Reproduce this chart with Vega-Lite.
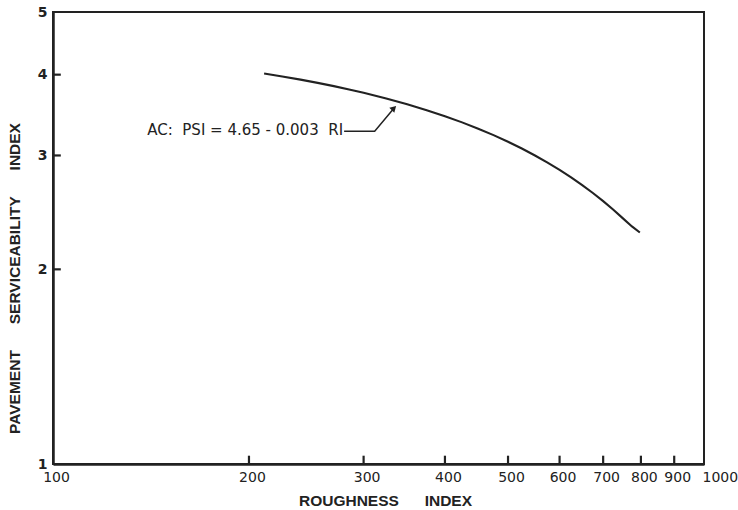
{
  "$schema": "https://vega.github.io/schema/vega-lite/v6.json",
  "width": 651,
  "height": 452,
  "autosize": {"type": "none"},
  "padding": {"left": 53, "top": 12, "right": 34, "bottom": 46},
  "background": "white",
  "config": {
    "view": {"stroke": "#222", "strokeWidth": 2},
    "font": "Liberation Sans",
    "axis": {"grid": false, "zindex": 1, "ticks": false, "domainColor": "#222", "domainWidth": 2.5, "labelColor": "#222", "titleColor": "#222"}
  },
  "datasets": {
    "curve": [
      {"RI": 211, "PSI": 4.017}, {"RI": 225, "PSI": 3.975}, {"RI": 240, "PSI": 3.93},
      {"RI": 255, "PSI": 3.885}, {"RI": 270, "PSI": 3.84}, {"RI": 285, "PSI": 3.795},
      {"RI": 300, "PSI": 3.75}, {"RI": 325, "PSI": 3.675}, {"RI": 350, "PSI": 3.6},
      {"RI": 375, "PSI": 3.525}, {"RI": 400, "PSI": 3.45}, {"RI": 425, "PSI": 3.375},
      {"RI": 450, "PSI": 3.3}, {"RI": 475, "PSI": 3.225}, {"RI": 500, "PSI": 3.15},
      {"RI": 525, "PSI": 3.075}, {"RI": 550, "PSI": 3.0}, {"RI": 575, "PSI": 2.925},
      {"RI": 600, "PSI": 2.85}, {"RI": 625, "PSI": 2.775}, {"RI": 650, "PSI": 2.7},
      {"RI": 675, "PSI": 2.625}, {"RI": 700, "PSI": 2.55}, {"RI": 725, "PSI": 2.475},
      {"RI": 750, "PSI": 2.4}, {"RI": 775, "PSI": 2.33}, {"RI": 797, "PSI": 2.28}
    ],
    "leader": [
      {"RI": 280, "PSI": 3.27, "o": 1},
      {"RI": 312, "PSI": 3.27, "o": 2},
      {"RI": 334, "PSI": 3.55, "o": 3}
    ],
    "tip": [{"RI": 334, "PSI": 3.55}],
    "label": [{"RI": 279, "PSI": 3.29, "text": "AC:\u00a0\u00a0PSI = 4.65 - 0.003\u00a0\u00a0RI"}],
    "xticks": [{"RI": 200}, {"RI": 300}, {"RI": 400}, {"RI": 500}, {"RI": 600}, {"RI": 700}, {"RI": 800}, {"RI": 900}],
    "yticks": [{"PSI": 2}, {"PSI": 3}, {"PSI": 4}]
  },
  "layer": [
    {
      "data": {"name": "curve"},
      "mark": {"type": "line", "color": "#222", "strokeWidth": 2.1},
      "encoding": {
        "x": {"field": "RI", "type": "quantitative",
          "scale": {"type": "log", "domain": [100, 1000], "nice": false},
          "axis": {"values": [100, 200, 300, 400, 500, 600, 700, 800, 900, 1000], "format": "d",
            "title": "ROUGHNESS\u00a0\u00a0\u00a0\u00a0\u00a0\u00a0INDEX", "titleFont": "Liberation Sans", "titleFontSize": 15.5, "titleFontWeight": "bold",
            "titlePadding": 9, "titleX": 332,
            "labelFont": "DejaVu Sans", "labelFontSize": 14, "labelPadding": 6,
            "labelFlush": false, "labelOverlap": false, "labelBound": false,
            "labelAlign": {"expr": "datum.value == 1000 ? 'left' : 'center'"},
            "labelOffset": {"expr": "datum.value == 1000 ? -2 : 3"}}},
        "y": {"field": "PSI", "type": "quantitative",
          "scale": {"type": "log", "domain": [1, 5], "nice": false},
          "axis": {"values": [1, 2, 3, 4, 5], "format": "d",
            "title": "PAVEMENT\u00a0\u00a0\u00a0\u00a0\u00a0\u00a0SERVICEABILITY\u00a0\u00a0\u00a0\u00a0\u00a0\u00a0INDEX", "titleFont": "Liberation Sans", "titleFontSize": 15.5, "titleFontWeight": "bold",
            "titleY": 266, "titleX": -31,
            "labelFont": "DejaVu Sans", "labelFontSize": 14, "labelFontWeight": "bold", "labelPadding": 6,
            "labelFlush": false, "labelOverlap": false}}
      }
    },
    {
      "data": {"name": "xticks"},
      "mark": {"type": "rule", "color": "#222", "strokeWidth": 2.2},
      "encoding": {
        "x": {"field": "RI", "type": "quantitative"},
        "y": {"datum": 1, "type": "quantitative"},
        "y2": {"datum": 1.03}
      }
    },
    {
      "data": {"name": "yticks"},
      "mark": {"type": "rule", "color": "#222", "strokeWidth": 2.2},
      "encoding": {
        "y": {"field": "PSI", "type": "quantitative"},
        "x": {"datum": 100, "type": "quantitative"},
        "x2": {"datum": 102.8}
      }
    },
    {
      "data": {"name": "leader"},
      "mark": {"type": "line", "color": "#222", "strokeWidth": 1.5},
      "encoding": {
        "x": {"field": "RI", "type": "quantitative"},
        "y": {"field": "PSI", "type": "quantitative"},
        "order": {"field": "o"}
      }
    },
    {
      "data": {"name": "tip"},
      "mark": {"type": "point", "shape": "triangle-up", "filled": true, "color": "#222", "size": 50, "angle": 45, "opacity": 1},
      "encoding": {
        "x": {"field": "RI", "type": "quantitative"},
        "y": {"field": "PSI", "type": "quantitative"}
      }
    },
    {
      "data": {"name": "label"},
      "mark": {"type": "text", "align": "right", "baseline": "middle", "font": "DejaVu Sans", "fontSize": 15, "color": "#222"},
      "encoding": {
        "x": {"field": "RI", "type": "quantitative"},
        "y": {"field": "PSI", "type": "quantitative"},
        "text": {"field": "text"}
      }
    }
  ]
}
